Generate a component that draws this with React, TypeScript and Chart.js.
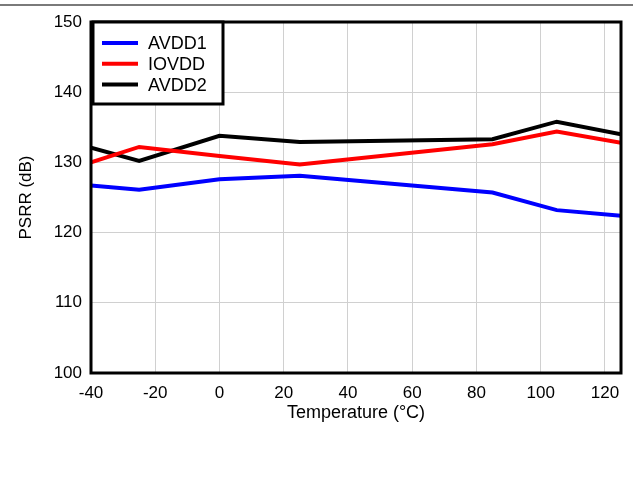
import React, { useEffect, useRef } from "react";
import { Chart, registerables } from "chart.js";

Chart.register(...registerables);

const temperatures = [-40, -25, 0, 25, 85, 105, 125];
const avdd1 = [126.7, 126.1, 127.6, 128.1, 125.7, 123.2, 122.4];
const iovdd = [130.0, 132.2, 130.9, 129.7, 132.6, 134.4, 132.8];
const avdd2 = [132.1, 130.2, 133.8, 132.9, 133.3, 135.8, 134.0];
const seriesNames = ["AVDD1", "IOVDD", "AVDD2"];
const seriesColors = ["#0000ff", "#ff0000", "#000000"];
const xTicks = [-40, -20, 0, 20, 40, 60, 80, 100, 120];
const yTicks = [100, 110, 120, 130, 140, 150];

const FONT = "'Liberation Sans', Arial, sans-serif";

const framePlugin = {
  id: "frame",
  beforeDraw(chart: any) {
    const ctx = chart.ctx;
    ctx.save();
    ctx.fillStyle = "#ffffff";
    ctx.fillRect(0, 0, chart.width, chart.height);
    ctx.strokeStyle = "#7a7a7a";
    ctx.lineWidth = 2;
    ctx.beginPath();
    ctx.moveTo(0, 5);
    ctx.lineTo(chart.width, 5);
    ctx.stroke();
    ctx.restore();
  },
  afterDraw(chart: any) {
    const ctx = chart.ctx;
    const a = chart.chartArea;
    ctx.save();
    ctx.strokeStyle = "#000";
    ctx.lineWidth = 3;
    ctx.strokeRect(a.left, a.top, a.right - a.left, a.bottom - a.top);
    // legend box
    const bx = a.left + 2;
    const by = a.top;
    const bw = 130;
    const bh = 82;
    ctx.fillStyle = "#fff";
    ctx.fillRect(bx, by, bw, bh);
    ctx.lineWidth = 3;
    ctx.strokeRect(bx, by, bw, bh);
    ctx.font = `18px ${FONT}`;
    ctx.textBaseline = "middle";
    chart.data.datasets.forEach((ds: any, i: number) => {
      const y = by + 21 + i * 20.8;
      ctx.strokeStyle = ds.borderColor;
      ctx.lineWidth = 4;
      ctx.beginPath();
      ctx.moveTo(bx + 9, y);
      ctx.lineTo(bx + 45, y);
      ctx.stroke();
      ctx.fillStyle = "#000";
      ctx.fillText(ds.label, bx + 55, y + 1);
    });
    ctx.restore();
  },
};

export default function App() {
  const ref = useRef<HTMLCanvasElement>(null);
  useEffect(() => {
    if (!ref.current) return;
    const series = [avdd1, iovdd, avdd2];
    const chart = new Chart(ref.current, {
      type: "line",
      data: {
        datasets: series.map((s, i) => ({
          label: seriesNames[i],
          data: temperatures.map((t, j) => ({ x: t, y: s[j] })),
          borderColor: seriesColors[i],
          backgroundColor: seriesColors[i],
          borderWidth: 4,
          pointRadius: 0,
          tension: 0,
        })),
      },
      options: {
        responsive: false,
        animation: false,
        layout: { padding: { top: 22, right: 12, left: 0, bottom: 0 } },
        plugins: { legend: { display: false }, tooltip: { enabled: false } },
        scales: {
          x: {
            type: "linear",
            min: -40,
            max: 125,
            afterBuildTicks: (s: any) => {
              s.ticks = xTicks.map((v) => ({ value: v }));
            },
            afterFit: (s: any) => {
              s.height = 120;
            },
            ticks: {
              color: "#000",
              font: { family: FONT, size: 17 },
              padding: 10,
              maxRotation: 0,
              autoSkip: false,
            },
            grid: { color: "#d0d0d0", lineWidth: 1, drawTicks: false },
            border: { display: false },
            title: {
              display: true,
              text: "Temperature (°C)",
              color: "#000",
              font: { family: FONT, size: 18 },
              padding: { top: 0, bottom: 69 },
            },
          },
          y: {
            type: "linear",
            min: 100,
            max: 150,
            afterBuildTicks: (s: any) => {
              s.ticks = yTicks.map((v) => ({ value: v }));
            },
            afterFit: (s: any) => {
              s.width = 91;
            },
            ticks: {
              color: "#000",
              font: { family: FONT, size: 17 },
              padding: 9,
            },
            grid: { color: "#d0d0d0", lineWidth: 1, drawTicks: false },
            border: { display: false },
            title: {
              display: true,
              text: "PSRR (dB)",
              color: "#000",
              font: { family: FONT, size: 17 },
              padding: { top: 16, bottom: 0 },
            },
          },
        },
      },
      plugins: [framePlugin],
    });
    return () => chart.destroy();
  }, []);
  return (
    <div style={{ position: "fixed", left: 0, top: 0, width: 633, height: 493 }}>
      <canvas ref={ref} width={633} height={493} />
    </div>
  );
}
